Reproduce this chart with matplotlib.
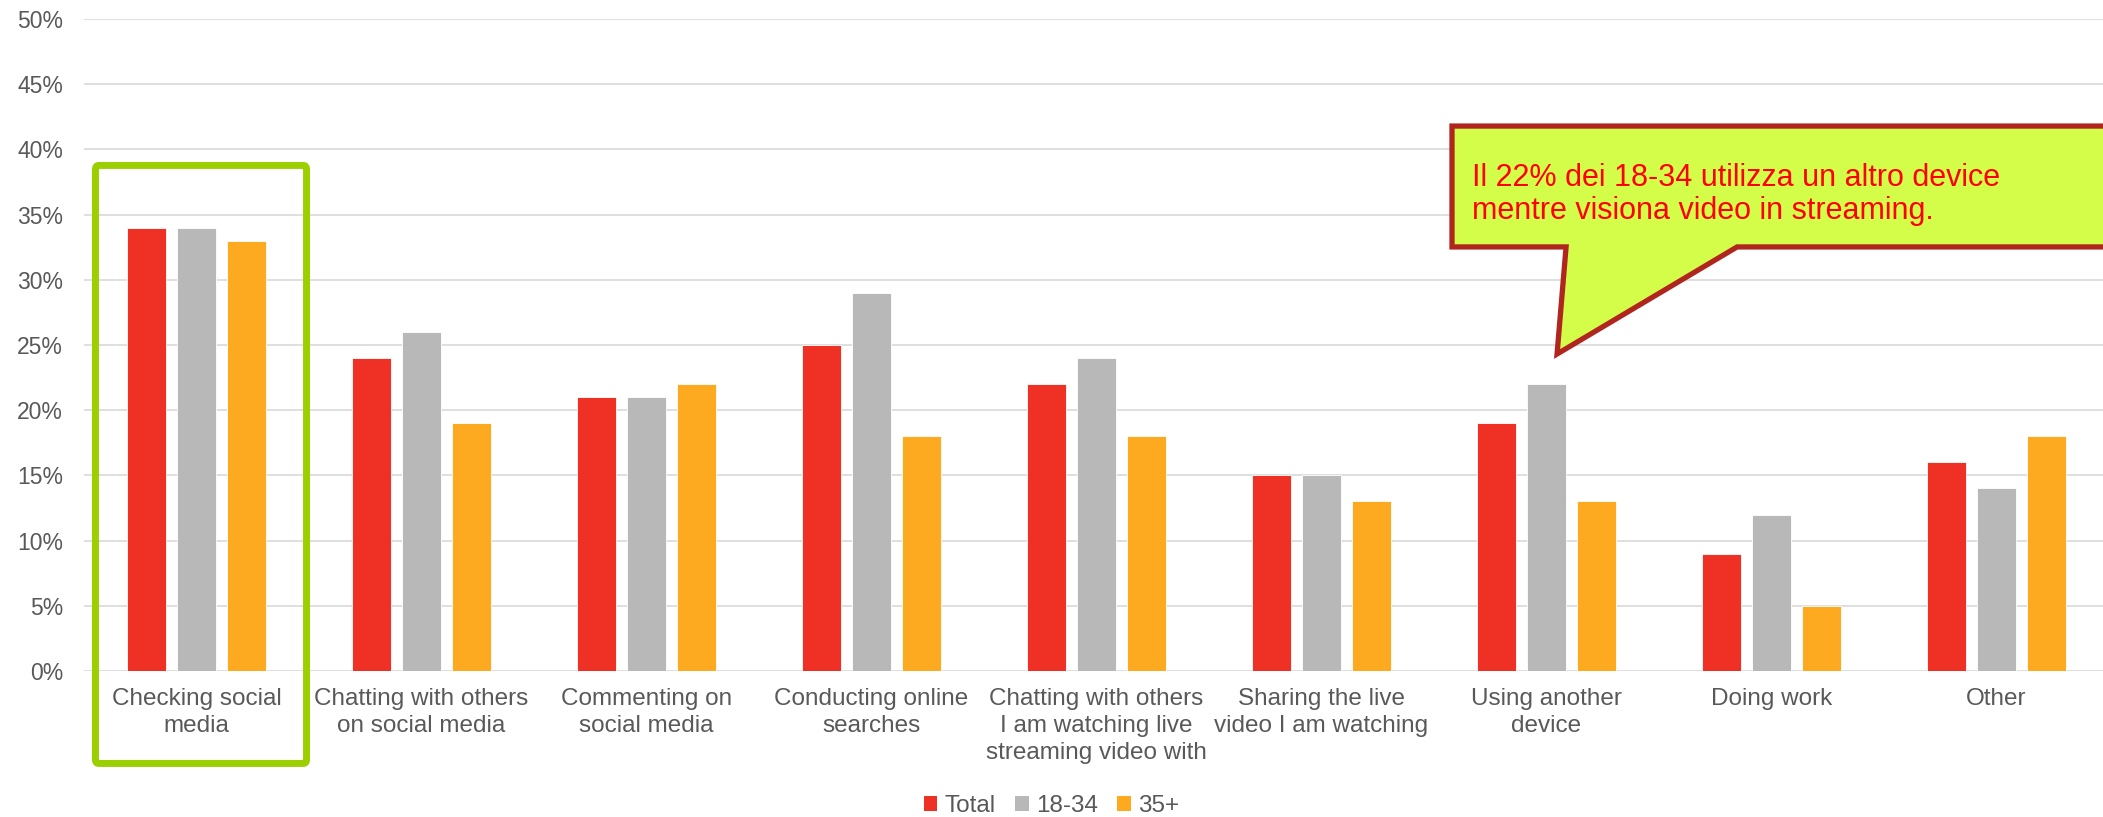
import numpy as np
import matplotlib.pyplot as plt
from matplotlib.patches import Patch, Polygon, FancyBboxPatch

plt.rcParams['font.family'] = ['Liberation Sans', 'DejaVu Sans']

categories = ["Checking social\nmedia", "Chatting with others\non social media",
              "Commenting on\nsocial media", "Conducting online\nsearches",
              "Chatting with others\nI am watching live\nstreaming video with",
              "Sharing the live\nvideo I am watching", "Using another\ndevice",
              "Doing work", "Other"]
total = [34, 24, 21, 25, 22, 15, 19, 9, 16]
age_18_34 = [34, 26, 21, 29, 24, 15, 22, 12, 14]
age_35_plus = [33, 19, 22, 18, 18, 13, 13, 5, 18]
series_names = ["Total", "18-34", "35+"]
colors = ["#EE3124", "#B8B8B8", "#FEAA20"]

fig = plt.figure(figsize=(21.03, 8.17), dpi=100)
ax = fig.add_axes([84/2103, 146/817, 2019/2103, 652/817])

x = np.arange(len(categories))
step = 0.222
width = 0.175
for i, (vals, c) in enumerate(zip([total, age_18_34, age_35_plus], colors)):
    ax.bar(x + (i - 1)*step, vals, width, color=c, edgecolor='white', linewidth=0.6, zorder=3)

ax.set_ylim(0, 50)
ax.set_xlim(-0.5, -0.5 + 2019/225)
ax.set_yticks(range(0, 51, 5))
ax.set_yticklabels([f"{v}%" for v in range(0, 51, 5)])
ax.set_xticks(x)
ax.set_xticklabels(categories, linespacing=1.3)
ax.tick_params(axis='y', length=0, labelsize=16.5, labelcolor='#595959', pad=15)
ax.tick_params(axis='x', length=0, labelsize=17.5, labelcolor='#595959', pad=12)
ax.grid(axis='y', color='#D9D9D9', linewidth=1.2, zorder=0)
for s in ax.spines.values():
    s.set_visible(False)

# highlight box round the first group
box = FancyBboxPatch((-0.449, -7.09), 0.938, 45.86, boxstyle="round,pad=0,rounding_size=0.015",
                     fill=False, edgecolor='#9BCF00', linewidth=5,
                     clip_on=False, zorder=5, mutation_aspect=20)
ax.add_patch(box)

# speech-bubble callout
bubble = Polygon([(5.58, 41.79), (8.7, 41.79), (8.7, 32.52), (6.847, 32.52),
                  (6.047, 24.31), (6.087, 32.52), (5.58, 32.52)],
                 closed=True, facecolor='#D4FD4A', edgecolor='#B0261E',
                 linewidth=3.8, joinstyle='miter', clip_on=False, zorder=6)
ax.add_patch(bubble)
ax.text(5.668, 36.55, "Il 22% dei 18-34 utilizza un altro device\nmentre visiona video in streaming.",
        color='#FF0000', fontsize=22, va='center', ha='left', linespacing=1.15, zorder=7)

handles = [Patch(facecolor=c, edgecolor='none') for c in colors]
fig.legend(handles, series_names, loc='center', bbox_to_anchor=(0.5, 11/817), ncol=3,
           frameon=False, fontsize=17.5, labelcolor='#595959', handlelength=0.55, handleheight=0.55,
           handletextpad=0.3, columnspacing=0.8, borderpad=0)

fig.savefig('out.png', dpi=100)
